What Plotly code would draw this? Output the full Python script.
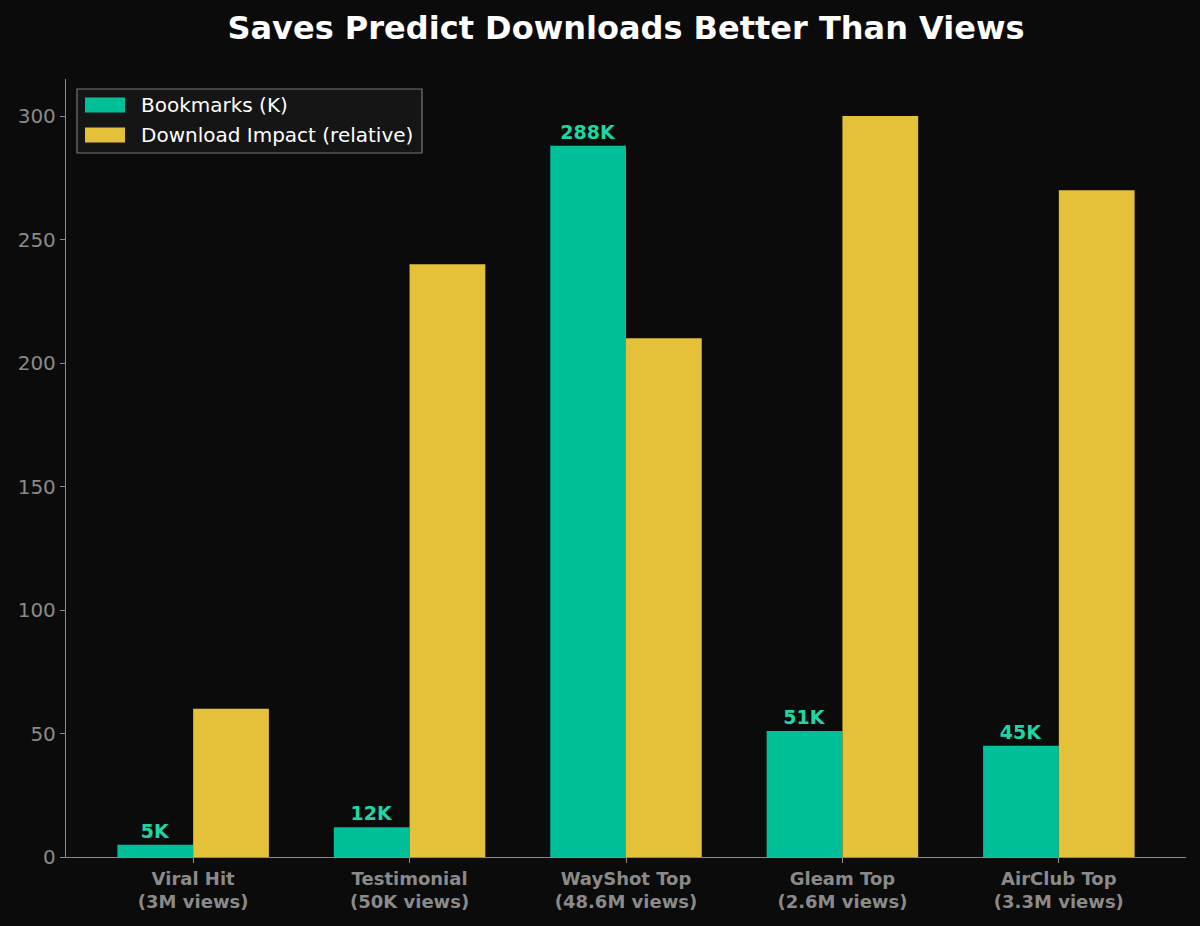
import plotly.graph_objects as go

categories = ["Viral Hit<br>(3M views)", "Testimonial<br>(50K views)", "WayShot Top<br>(48.6M views)",
              "Gleam Top<br>(2.6M views)", "AirClub Top<br>(3.3M views)"]
bookmarks = [5, 12, 288, 51, 45]
bookmark_labels = ["5K", "12K", "288K", "51K", "45K"]
download_impact = [60, 240, 210, 300, 270]
y_ticks = [0, 50, 100, 150, 200, 250, 300]
series_names = ["Bookmarks (K)", "Download Impact (relative)"]

x = list(range(len(categories)))
BG = "#0b0b0b"
TEAL = "#00bf99"
YELLOW = "#e5c13a"
GRAY = "#8a8a8a"

# plot area in pixels
L, R, T, B = 66, 1186, 79, 857
def px(xp):
    return (xp - L) / (R - L)
def py(yp):
    return (B - yp) / (B - T)

fig = go.Figure()
fig.add_trace(go.Bar(
    x=x, y=bookmarks, width=0.35, offset=-0.35, name=series_names[0],
    marker=dict(color=TEAL, line=dict(width=0)),
    text=bookmark_labels, textposition="outside", cliponaxis=False,
    textfont=dict(family="DejaVu Sans", size=19, color="#1ed6a5", weight="bold"),
))
fig.add_trace(go.Bar(
    x=x, y=download_impact, width=0.35, offset=0, name=series_names[1],
    marker=dict(color=YELLOW, line=dict(width=0)),
))

# custom legend (matplotlib-like)
shapes = [dict(type="rect", xref="paper", yref="paper",
               x0=px(77), x1=px(422), y0=py(153), y1=py(89),
               fillcolor="#151515", line=dict(color="#777777", width=1.2), layer="above")]
annotations = []
for i, (name, col) in enumerate(zip(series_names, [TEAL, YELLOW])):
    cy = 105 + 30 * i
    shapes.append(dict(type="rect", xref="paper", yref="paper",
                       x0=px(85), x1=px(125), y0=py(cy + 7.5), y1=py(cy - 7.5),
                       fillcolor=col, line=dict(width=0), layer="above"))
    annotations.append(dict(xref="paper", yref="paper", x=px(139), y=py(cy),
                            xanchor="left", yanchor="middle", showarrow=False,
                            text=name, font=dict(family="DejaVu Sans", size=20, color="white")))

fig.update_layout(
    width=1200, height=926,
    paper_bgcolor=BG, plot_bgcolor=BG,
    margin=dict(l=L, r=1200 - R, t=T, b=926 - B),
    title=dict(text="<b>Saves Predict Downloads Better Than Views</b>", x=626/1200, xanchor="center",
               y=1 - 28/926, yanchor="middle",
               font=dict(family="DejaVu Sans", size=32, color="white")),
    barmode="overlay",
    showlegend=False,
    shapes=shapes,
    annotations=annotations,
    font=dict(family="DejaVu Sans"),
)
fig.update_xaxes(
    range=[-0.5875, 4.5875], tickvals=x, ticktext=[f"<b>{c}</b>" for c in categories],
    tickfont=dict(family="DejaVu Sans", size=18, color=GRAY),
    showgrid=False, zeroline=False, showline=True, linecolor=GRAY, linewidth=1.3,
    ticks="outside", ticklen=5, tickcolor=GRAY, tickwidth=1.3,
)
fig.update_yaxes(
    range=[0, 315], tickvals=y_ticks,
    tickfont=dict(family="DejaVu Sans", size=20, color=GRAY),
    showgrid=False, zeroline=False, showline=True, linecolor=GRAY, linewidth=1.3,
    ticks="outside", ticklen=5, tickcolor=GRAY, tickwidth=1.3,
)

fig.write_html("out.html")
